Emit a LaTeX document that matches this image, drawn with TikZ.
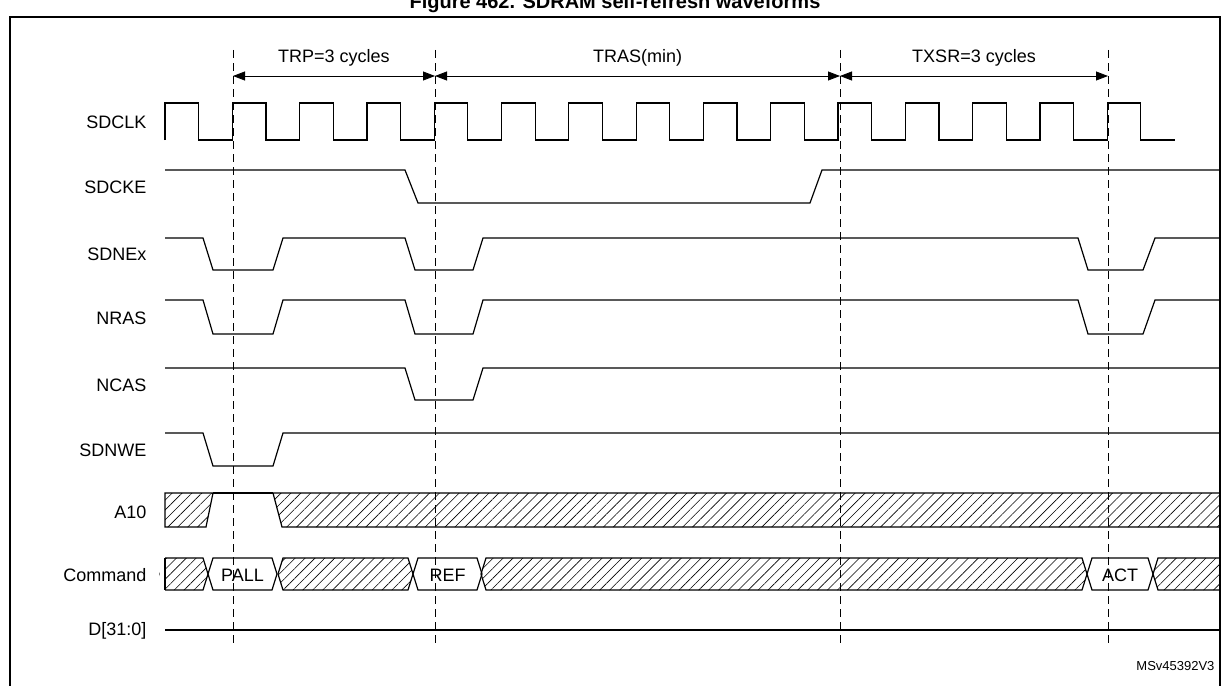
\documentclass[tikz,border=0pt]{standalone}
\usepackage{fontspec}
\setmainfont{Liberation Sans}
\usetikzlibrary{patterns.meta,arrows.meta}

\tikzset{
    sig/.style={line width=1.2pt},
    hatch/.style={pattern={Lines[distance=7pt,angle=45,line width=0.6pt]}},
    marker/.style={dashed,line width=0.8pt,dash pattern=on 8pt off 5pt},
    span/.style={line width=0.8pt,{Triangle[length=12pt,width=9pt]}-{Triangle[length=12pt,width=9pt]}},
    siglabel/.style={anchor=east,font=\fontsize{18}{20}\selectfont}
}

\begin{document}
\begin{tikzpicture}[x=1pt,y=-1pt]
    \useasboundingbox (0,0) rectangle (1230,685);
    \node[font=\bfseries\fontsize{20}{22}\selectfont] (title) at (615,3) {Figure 462. SDRAM self-refresh waveforms};
    \draw[line width=1.6pt] (10,704) -- (10,17) -- (1220,17) -- (1220,704);

    % signal names
    \foreach \name/\y in {SDCLK/122,SDCKE/187,SDNEx/254,NRAS/318,NCAS/385,SDNWE/450,A10/512,Command/575,D[31:0]/631}
      \node[siglabel] (lbl-\name) at (150,\y) {\name};
    \node[anchor=east,font=\fontsize{13}{15}\selectfont] (ref) at (1218,666) {MSv45392V3};

    % timing markers
    \foreach \n/\x in {t1/233,t2/435,t3/840,t4/1108} {
      \coordinate (\n) at (\x,76);
      \draw[marker] (\x,50) -- (\x,645);
    }
    \draw[span] (t1) -- (t2) node[pos=.5,above=6pt,font=\fontsize{18}{20}\selectfont] (trp) {TRP=3 cycles};
    \draw[span] (t2) -- (t3) node[pos=.5,above=6pt,font=\fontsize{18}{20}\selectfont] (tras) {TRAS(min)};
    \draw[span] (t3) -- (t4) node[pos=.5,above=6pt,font=\fontsize{18}{20}\selectfont] (txsr) {TXSR=3 cycles};

    % SDCLK
    \draw[sig] (165,140) \foreach \k in {0,...,14} { -- ++(0,-37) -- ++(33.65,0) -- ++(0,37) -- ++(33.65,0) };

    % SDCKE
    \draw[sig] (165,170) -- (405,170) -- (418,203) -- (810,203) -- (822,170) -- (1220,170);

    % SDNEx, NRAS
    \foreach \hi/\lo in {238/270,300/334}
      \draw[sig] (165,\hi) -- (203,\hi) -- (213,\lo) -- (273,\lo) -- (283,\hi) -- (405,\hi) -- (415,\lo)
        -- (473,\lo) -- (483,\hi) -- (1078,\hi) -- (1088,\lo) -- (1143,\lo) -- (1155,\hi) -- (1220,\hi);

    % NCAS
    \draw[sig] (165,368) -- (405,368) -- (415,400) -- (473,400) -- (483,368) -- (1220,368);

    % SDNWE
    \draw[sig] (165,433) -- (203,433) -- (213,466) -- (273,466) -- (283,433) -- (1220,433);

    % A10
    \draw[sig,hatch] (165,527) -- (165,493) -- (213,493) -- (206,527) -- cycle;
    \draw[sig,hatch] (1220,493) -- (273,493) -- (282,527) -- (1220,527);
    \draw[sig] (213,493) -- (273,493);

    % Command bus
    \foreach \a/\b in {165/203,283/408,486/1082}
      \draw[sig,hatch] (\a,558) -- (\b,558) -- (\b+5,574) -- (\b,590) -- (\a,590) -- (\a-5,574) -- cycle;
    \draw[sig,hatch] (1220,558) -- (1158,558) -- (1153,574) -- (1158,590) -- (1220,590);
    \foreach \a/\b/\cmd in {213/272/PALL,418/477/REF,1092/1148/ACT} {
      \draw[sig] (\a,558) -- (\b,558) -- (\b+5,574) -- (\b,590) -- (\a,590) -- (\a-5,574) -- cycle;
      \node[font=\fontsize{18}{20}\selectfont] (cmd-\cmd) at ({(\a+\b)/2},575) {\cmd};
    }
    \fill[white] (160,555) rectangle (165,593);
    \draw[sig] (165,558) -- (165,590);

    % D[31:0]
    \draw[sig] (165,630) -- (1220,630);
\end{tikzpicture}
\end{document}
